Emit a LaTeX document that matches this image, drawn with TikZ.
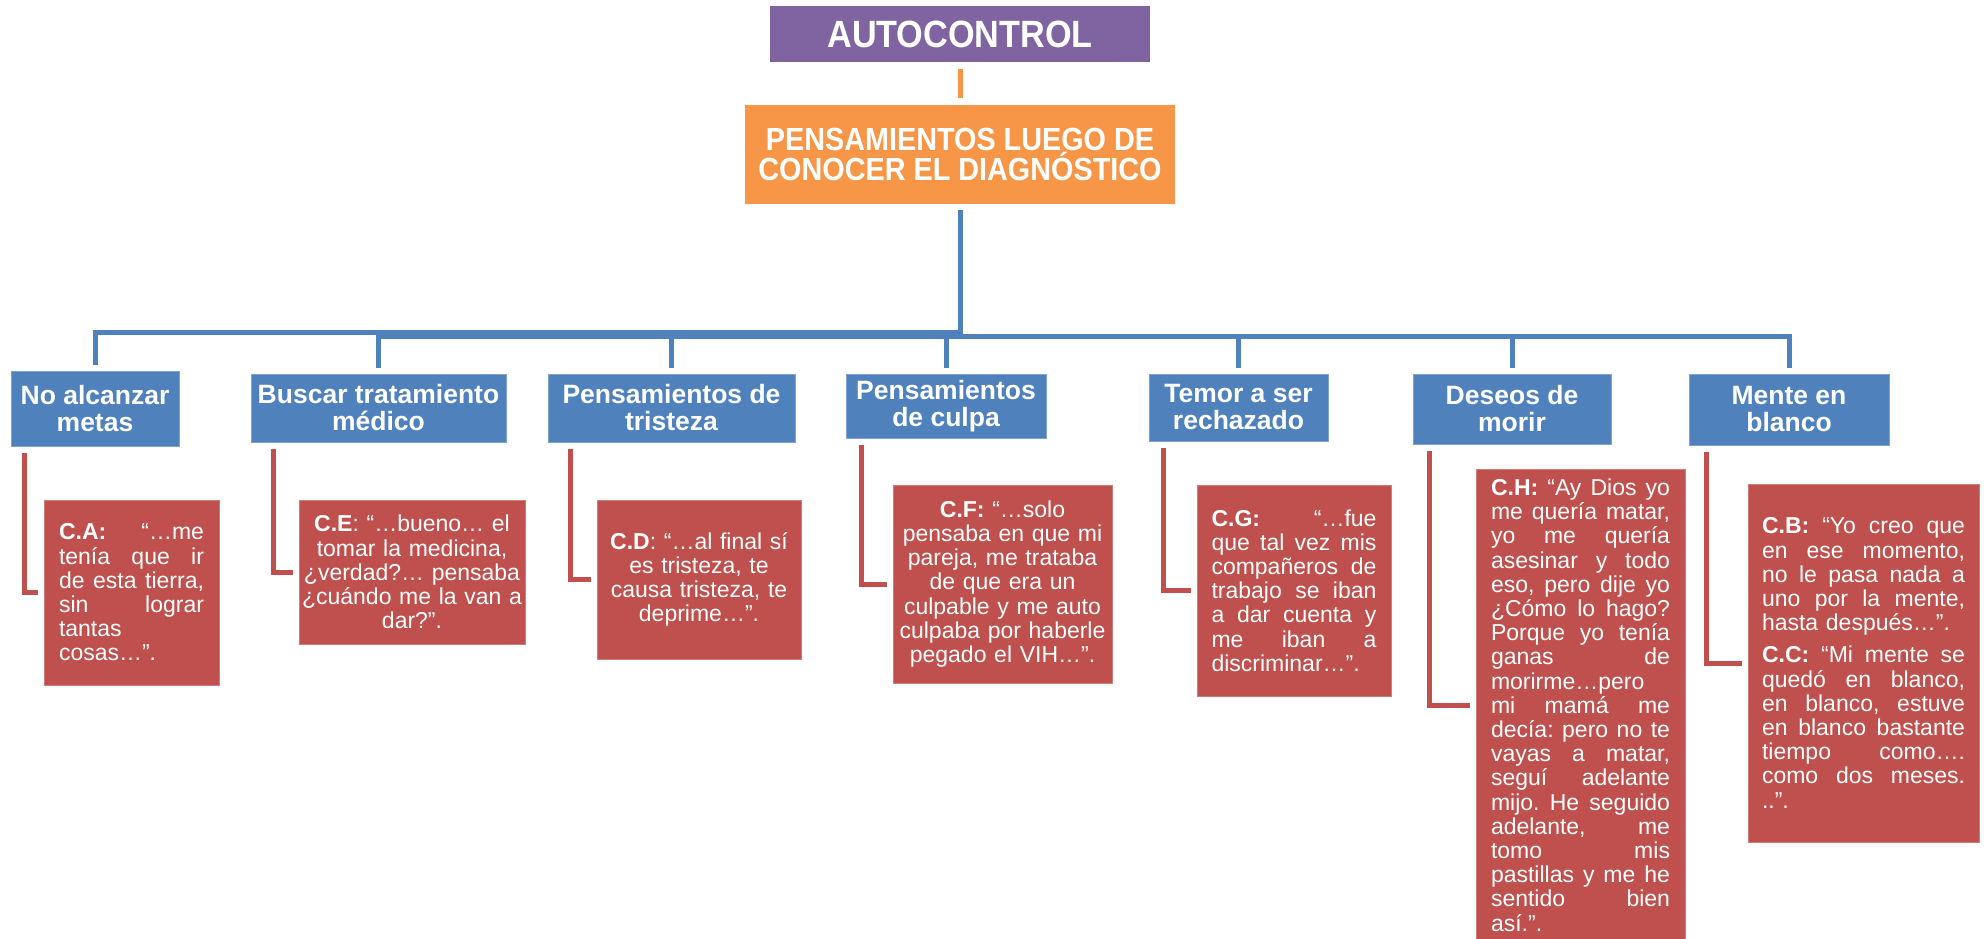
\documentclass[tikz,border=0pt]{standalone}
\usepackage{fontspec}
\setmainfont{Liberation Sans}
\newfontfamily\headfont[FakeStretch=0.9]{Liberation Sans}
\frenchspacing

\definecolor{hdpurple}{HTML}{8064A2}
\definecolor{hdorange}{HTML}{F79646}
\definecolor{hdblue}{HTML}{4F81BD}
\definecolor{hdblueedge}{HTML}{7FA3D0}
\definecolor{hdred}{HTML}{C0504D}
\definecolor{hdrededge}{HTML}{D27C7A}

% one justified line: the word spaces share the extra room equally
\newlength\jwd
\newcommand\jl[1]{\leavevmode\hbox to\jwd{\spaceskip=0.278em plus 1fil\relax #1}}

\begin{document}
\begin{tikzpicture}[x=1pt,y=-1pt,
  box/.style={inner sep=0pt, text=white, anchor=center},
  topbox/.style={box, fill=hdpurple, font=\headfont\bfseries\fontsize{38}{38}\selectfont},
  mainbox/.style={box, fill=hdorange, align=center, font=\headfont\bfseries\fontsize{32}{30.5}\selectfont},
  catbox/.style={box, fill=hdblue, draw=hdblueedge, line width=1pt, align=center,
    font=\bfseries\fontsize{26.5}{27}\selectfont},
  quotebox/.style={box, fill=hdred, draw=hdrededge, line width=1pt,
    font=\fontsize{23}{24.2}\selectfont},
  quotej/.style={quotebox, align=left, text width=#1,
    execute at begin node={\setlength{\jwd}{#1}}},
  quotec/.style={quotebox, align=center, text width=#1},
  blueline/.style={draw=hdblue, line width=5pt, shorten <=6pt, shorten >=6pt},
  redline/.style={draw=hdred, line width=5pt, shorten <=6pt, shorten >=6pt},
  orangeline/.style={draw=hdorange, line width=5pt, shorten <=7pt, shorten >=7pt}
]
\useasboundingbox (0,0) rectangle (1984,938);
\fill[white] (0,0) rectangle (1984,938);

% header levels
\node[topbox, minimum width=380pt, minimum height=56pt] (auto) at (960,34) {AUTOCONTROL};
\node[mainbox, minimum width=430pt, minimum height=99pt] (main) at (960,154.5)
  {PENSAMIENTOS LUEGO DE\\CONOCER EL DIAGNÓSTICO};

% categories
\node[catbox, minimum width=168pt, minimum height=75pt] (b1) at (95,408.5) {No alcanzar\\metas};
\node[catbox, minimum width=255pt, minimum height=68pt] (b2) at (378.5,408) {Buscar tratamiento\\médico};
\node[catbox, minimum width=247pt, minimum height=68pt] (b3) at (671.5,408) {Pensamientos de\\tristeza};
\node[catbox, minimum width=200pt, minimum height=64pt] (b4) at (946,406) {Pensamientos\\de culpa};
\node[catbox, minimum width=179pt, minimum height=67pt] (b5) at (1238.5,407.5) {Temor a ser\\rechazado};
\node[catbox, minimum width=198pt, minimum height=70pt] (b6) at (1512,409) {Deseos de\\morir};
\node[catbox, minimum width=200pt, minimum height=71pt] (b7) at (1789,409.5) {Mente en\\blanco};

% quotations
\node[quotej=145pt, inner xsep=15pt, minimum height=185pt] (ca) at (131.5,592.5)
  {\jl{\textbf{C.A:} “…me}\\
   \jl{tenía que ir}\\
   \jl{de esta tierra,}\\
   \jl{sin lograr}\\
   tantas\\
   cosas…”.};

\node[quotec=226pt, inner xsep=0pt, minimum height=144pt] (ce) at (412,572)
  {\textbf{C.E}: “…bueno… el\\
   tomar la medicina,\\
   ¿verdad?… pensaba\\
   ¿cuándo me la van a\\
   dar?”.};

\node[quotec=190pt, inner xsep=7pt, minimum height=159pt] (cd) at (699,579.5)
  {\textbf{C.D}: “…al final sí\\
   es tristeza, te\\
   causa tristeza, te\\
   deprime…”.};

\node[quotec=207pt, inner xsep=6pt, minimum height=198pt] (cf) at (1002.5,584)
  {\textbf{C.F:} “…solo\\
   pensaba en que mi\\
   pareja, me trataba\\
   de que era un\\
   culpable y me auto\\
   culpaba por haberle\\
   pegado el VIH…”.};

\node[quotej=165pt, inner xsep=14.5pt, minimum height=211pt] (cg) at (1294,590.5)
  {\jl{\textbf{C.G:} “…fue}\\
   \jl{que tal vez mis}\\
   \jl{compañeros de}\\
   \jl{trabajo se iban}\\
   \jl{a dar cuenta y}\\
   \jl{me iban a}\\
   discriminar…”.};

\node[quotej=179pt, inner xsep=15pt, minimum height=472pt] (ch) at (1580.5,705)
  {\jl{\textbf{C.H:} “Ay Dios yo}\\
   \jl{me quería matar,}\\
   \jl{yo me quería}\\
   \jl{asesinar y todo}\\
   \jl{eso, pero dije yo}\\
   \jl{¿Cómo lo hago?}\\
   \jl{Porque yo tenía}\\
   \jl{ganas de}\\
   morirme…pero\\
   \jl{mi mamá me}\\
   \jl{decía: pero no te}\\
   \jl{vayas a matar,}\\
   \jl{seguí adelante}\\
   \jl{mijo. He seguido}\\
   \jl{adelante, me}\\
   \jl{tomo mis}\\
   \jl{pastillas y me he}\\
   \jl{sentido bien}\\
   así.”.};

\node[quotej=203pt, inner xsep=14pt, minimum height=358pt] (cb) at (1863.5,663)
  {\jl{\textbf{C.B:} “Yo creo que}\\
   \jl{en ese momento,}\\
   \jl{no le pasa nada a}\\
   \jl{uno por la mente,}\\
   hasta después…”.\\[8pt]
   \jl{\textbf{C.C:} “Mi mente se}\\
   \jl{quedó en blanco,}\\
   \jl{en blanco, estuve}\\
   \jl{en blanco bastante}\\
   \jl{tiempo como….}\\
   \jl{como dos meses.}\\
   ..”.};

% connectors
\draw[orangeline] (auto.south) -- (main.north);

\draw[blueline] (main.south) -- ++(0,128) -| (b1.north);
\foreach \b in {b2,b3,b4,b5,b6,b7}
  \draw[blueline] (main.south) -- ++(0,132) -| (\b.north);

\draw[redline] ([xshift=14pt]b1.south west) |- (ca.west);
\draw[redline] ([xshift=23pt]b2.south west) |- (ce.west);
\draw[redline] ([xshift=23pt]b3.south west) |- (cd.west);
\draw[redline] ([xshift=16pt]b4.south west) |- (cf.west);
\draw[redline] ([xshift=15pt]b5.south west) |- (cg.west);
\draw[redline] ([xshift=17pt]b6.south west) |- (ch.west);
\draw[redline] ([xshift=18pt]b7.south west) |- (cb.west);
\end{tikzpicture}
\end{document}
